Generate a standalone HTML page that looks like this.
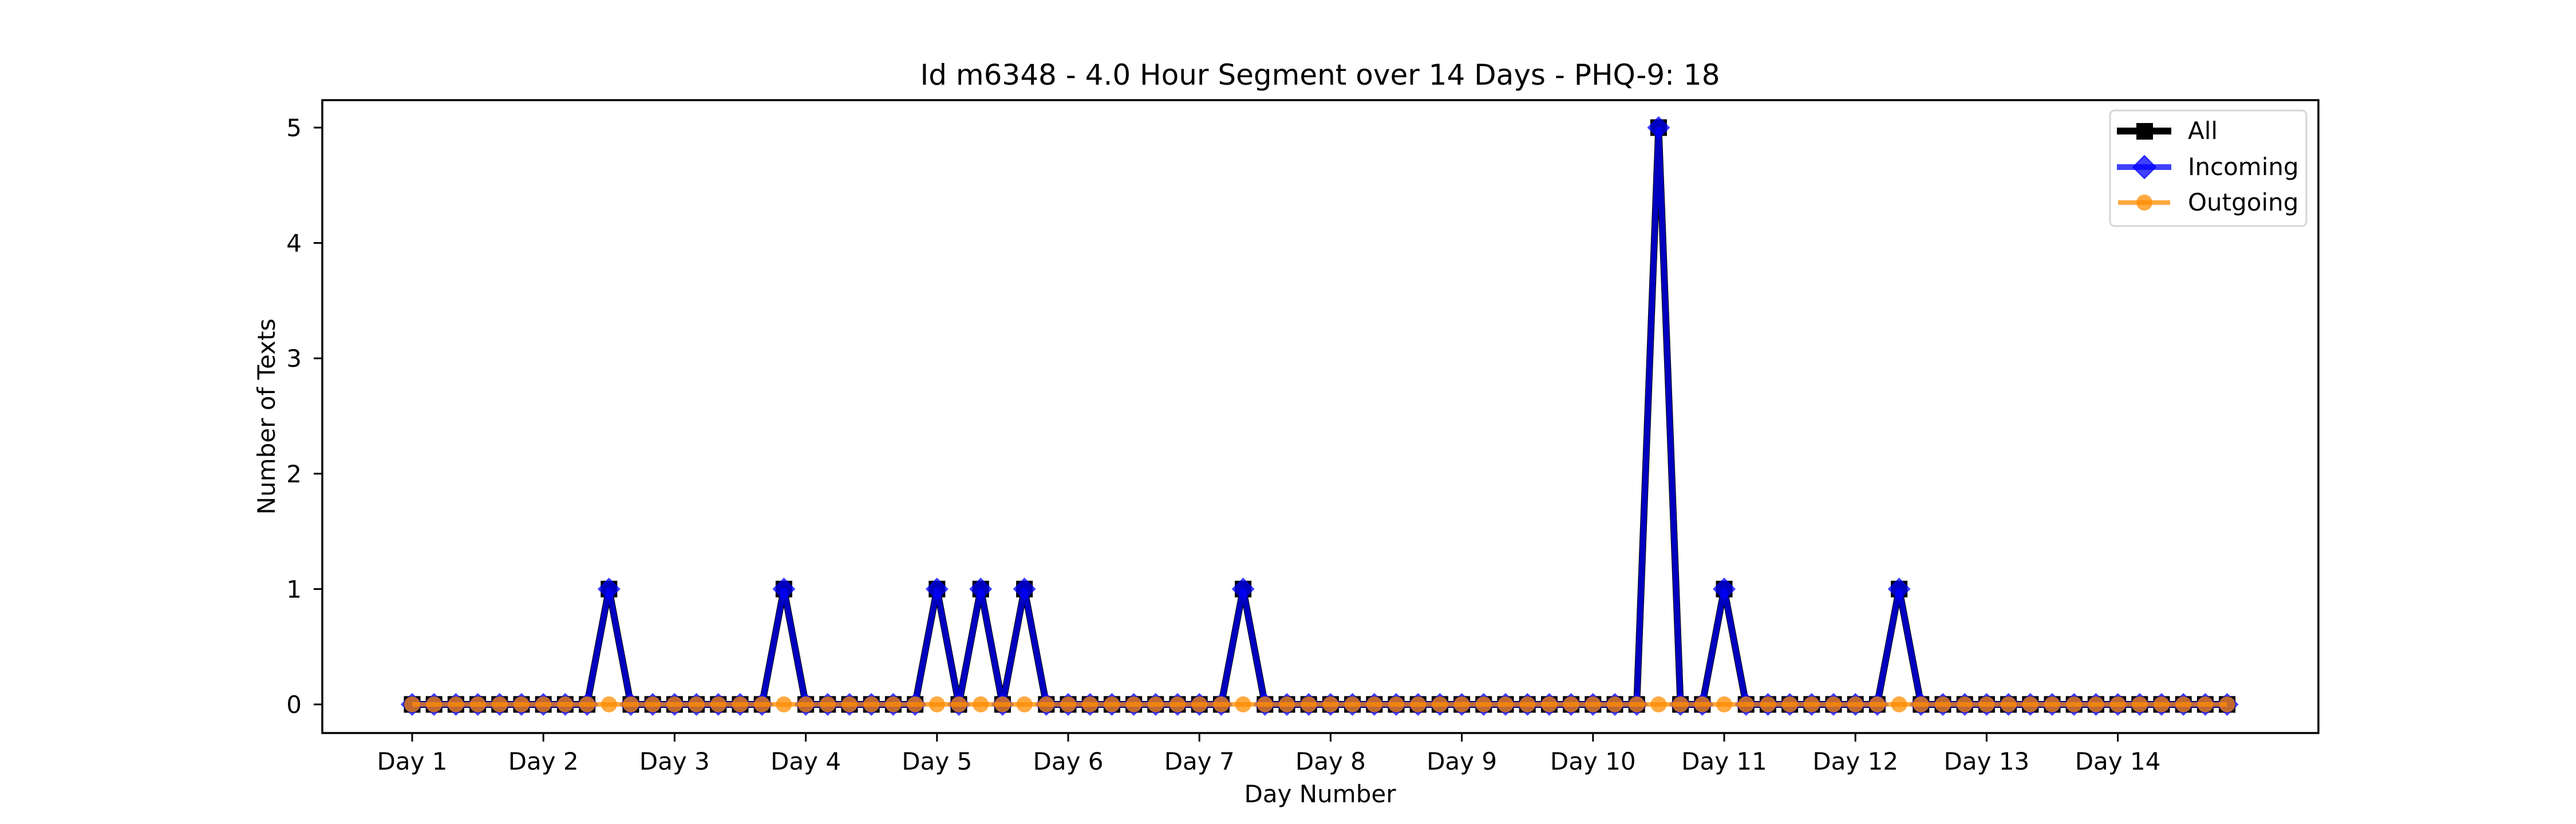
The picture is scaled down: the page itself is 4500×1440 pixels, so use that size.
<!DOCTYPE html>
<html><head><meta charset="utf-8"><style>
html,body{margin:0;padding:0;background:#fff;}
svg{display:block;font-family:"DejaVu Sans","Liberation Sans",sans-serif;}
</style></head><body>
<svg id="chart" width="4500" height="1440" viewBox="0 0 4500 1440" xmlns="http://www.w3.org/2000/svg">
<rect width="4500" height="1440" fill="#fff"/>
<text x="2306" y="148" font-size="50" text-anchor="middle">Id m6348 - 4.0 Hour Segment over 14 Days - PHQ-9: 18</text>
<g id="plot"></g>
<rect x="563" y="175" width="3487" height="1106" fill="none" stroke="#000" stroke-width="3.5"/>
<text x="2306" y="1402" font-size="42" text-anchor="middle">Day Number</text>
<text transform="translate(480,728) rotate(-90)" font-size="42" text-anchor="middle">Number of Texts</text>
<g>
<rect x="3686" y="193" width="343" height="202" rx="8" fill="#fff" fill-opacity="0.8" stroke="#d6d6d6" stroke-width="3"/>
<g>
<line x1="3698" y1="229" x2="3793" y2="229" stroke="#000" stroke-width="12"/>
<rect x="3732" y="215" width="29" height="29" fill="#000"/>
<text x="3822" y="243" font-size="42">All</text></g>
<g>
<line x1="3698" y1="292" x2="3793" y2="292" stroke="#0000ff" stroke-opacity="0.75" stroke-width="10"/>
<path d="M3746 272 L3766 292 L3746 312 L3726 292 Z" fill="#0000ff" fill-opacity="0.75" stroke="#0000ff" stroke-opacity="0.75" stroke-width="2"/>
<text x="3822" y="306" font-size="42">Incoming</text></g>
<g>
<line x1="3700" y1="354" x2="3791" y2="354" stroke="#ff8c00" stroke-opacity="0.75" stroke-width="8"/>
<circle cx="3746" cy="354" r="14" fill="#ff8c00" fill-opacity="0.75"/>
<text x="3822" y="368" font-size="42">Outgoing</text></g>
</g>
</svg>
<script>
const dayLabels = ["Day 1","Day 2","Day 3","Day 4","Day 5","Day 6","Day 7","Day 8","Day 9","Day 10","Day 11","Day 12","Day 13","Day 14"];
const yTicks = [0,1,2,3,4,5];
const incomingPeakIndex = [9,17,24,26,28,38,57,60,68];
const incomingPeakValue = [1,1,1,1,1,1,5,1,1];
const incoming = [0,0,0,0,0,0,0,0,0,1,0,0,0,0,0,0,0,1,0,0,0,0,0,0,1,0,1,0,1,0,0,0,0,0,0,0,0,0,1,0,0,0,0,0,0,0,0,0,0,0,0,0,0,0,0,0,0,5,0,0,1,0,0,0,0,0,0,0,1,0,0,0,0,0,0,0,0,0,0,0,0,0,0,0];
const outgoing = [0,0,0,0,0,0,0,0,0,0,0,0,0,0,0,0,0,0,0,0,0,0,0,0,0,0,0,0,0,0,0,0,0,0,0,0,0,0,0,0,0,0,0,0,0,0,0,0,0,0,0,0,0,0,0,0,0,0,0,0,0,0,0,0,0,0,0,0,0,0,0,0,0,0,0,0,0,0,0,0,0,0,0,0];
const allTexts = incoming.map((v,i)=>v+outgoing[i]);

const NS="http://www.w3.org/2000/svg";
const svg=document.getElementById('chart');
const plot=document.getElementById('plot');
const x0=720, dayW=229.2, perDay=6;
const xIdx=i=>x0+i*dayW/perDay;
const xDay=d=>x0+d*dayW;
const y0=1231, yUnit=201.6;
const yv=v=>y0-v*yUnit;
function mk(tag,attrs,parent){const e=document.createElementNS(NS,tag);for(const k in attrs)e.setAttribute(k,attrs[k]);(parent||plot).appendChild(e);return e;}

yTicks.forEach(t=>{
  const l=mk('line',{x1:548,x2:563,y1:yv(t),y2:yv(t),stroke:'#000','stroke-width':3},svg);
  
  
  const tx=mk('text',{x:527,y:yv(t)+15,'font-size':42,'text-anchor':'end'},svg);
  tx.textContent=t;
  
  
});
dayLabels.forEach((lab,d)=>{
  const l=mk('line',{x1:xDay(d),x2:xDay(d),y1:1281,y2:1296,stroke:'#000','stroke-width':3},svg);
  
  
  const tx=mk('text',{x:xDay(d),y:1345,'font-size':42,'text-anchor':'middle'},svg);
  tx.textContent=lab;
  
  
});
function pts(arr){return arr.map((v,i)=>xIdx(i)+','+yv(v)).join(' ');}
const la=mk('polyline',{points:pts(allTexts),fill:'none',stroke:'#000','stroke-width':12,'stroke-linejoin':'miter'});


allTexts.forEach((v,i)=>{const r=mk('rect',{x:xIdx(i)-14.5,y:yv(v)-14.5,width:29,height:29,fill:'#000'});
  
  });
const li=mk('polyline',{points:pts(incoming),fill:'none',stroke:'#0000ff','stroke-opacity':0.75,'stroke-width':10});


incoming.forEach((v,i)=>{const cx=xIdx(i),cy=yv(v);
  const p=mk('path',{d:`M${cx} ${cy-20} L${cx+20} ${cy} L${cx} ${cy+20} L${cx-20} ${cy} Z`,fill:'#0000ff','fill-opacity':0.75});
  
  });
const lo=mk('polyline',{points:pts(outgoing),fill:'none',stroke:'#ff8c00','stroke-opacity':0.75,'stroke-width':8});


outgoing.forEach((v,i)=>{const c=mk('circle',{cx:xIdx(i),cy:yv(v),r:14,fill:'#ff8c00','fill-opacity':0.75});
  
  });
</script>
</body></html>
